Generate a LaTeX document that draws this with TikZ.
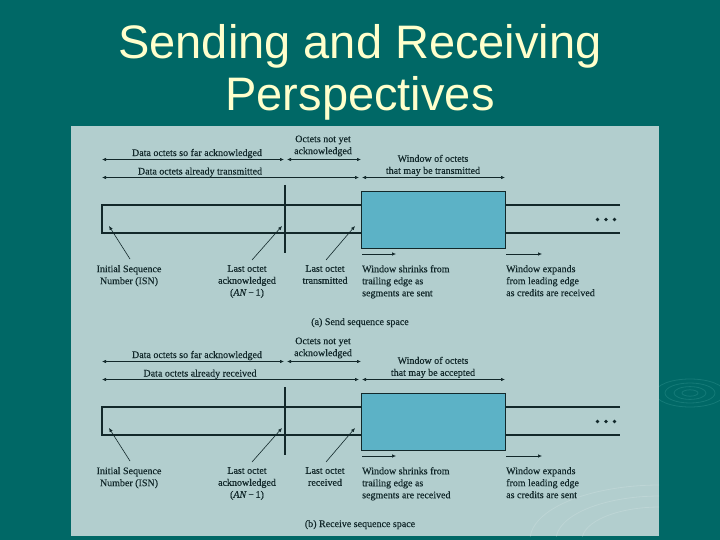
\documentclass[tikz,border=0pt]{standalone}
\usepackage{fontspec}
\setmainfont{Liberation Serif}
\newfontfamily\lblfont[FakeBold=0.35]{Liberation Serif}
\newfontfamily\titlefont{Liberation Sans}
\usetikzlibrary{arrows.meta}
\definecolor{bgteal}{RGB}{0,104,102}
\definecolor{panelc}{RGB}{178,206,206}
\definecolor{winc}{RGB}{92,178,198}
\definecolor{inkc}{RGB}{18,40,42}
\definecolor{titlec}{RGB}{255,255,204}
\definecolor{ripplec}{RGB}{40,140,136}
\tikzset{
  lbl/.style={font=\lblfont\fontsize{10}{12}\selectfont, text=inkc, inner sep=0pt, align=center},
  lblleft/.style={lbl, align=left},
  dim/.style={draw=inkc, line width=0.7pt, {Latex[length=4pt,width=3.4pt]}-{Latex[length=4pt,width=3.4pt]}},
  ptr/.style={draw=inkc, line width=0.6pt, -{Latex[length=4pt,width=3.4pt]}},
  strip/.style={draw=inkc, line width=1.1pt},
  barline/.style={draw=inkc, line width=2pt},
  winbox/.style={draw=inkc, fill=winc, line width=1.2pt, inner sep=0pt, minimum width=144pt, minimum height=57pt},
  titletext/.style={font=\titlefont\fontsize{47}{53}\selectfont, text=titlec, inner sep=0pt},
  ripple/.style={draw=ripplec, line width=0.8pt, opacity=0.5},
  dotc/.style={fill=inkc, circle, inner sep=0pt, minimum size=3.6pt}
}
\newcommand\seqspace[8]{%
\begin{scope}[shift={(0,#2)}]
  \coordinate (#1a1) at (102,159.5);
  \coordinate (#1a2) at (284,159.5);
  \coordinate (#1b1) at (287,159.5);
  \coordinate (#1b2) at (361,159.5);
  \coordinate (#1c1) at (102,177.5);
  \coordinate (#1c2) at (359,177.5);
  \coordinate (#1d1) at (362,177.5);
  \coordinate (#1d2) at (505,177.5);
  \draw[dim] (#1a1) -- (#1a2);
  \draw[dim] (#1b1) -- (#1b2);
  \draw[dim] (#1c1) -- (#1c2);
  \draw[dim] (#1d1) -- (#1d2);
  \node[lbl, anchor=base] (#1ackt) at (197,156) {Data octets so far acknowledged};
  \node[lbl, anchor=south] (#1nyt) at (323,156.5) {Octets not yet\\acknowledged};
  \node[lbl, anchor=base] (#1alr) at (200,174.5) {Data octets already #3};
  \node[lbl, anchor=south] (#1wint) at (433,176.2) {Window of octets\\that may be #4};
  % strip
  \coordinate (#1s1) at (620,205);
  \coordinate (#1s2) at (102,205);
  \coordinate (#1s3) at (102,233);
  \coordinate (#1s4) at (620,233);
  \draw[strip] (#1s1) -- (#1s2) -- (#1s3) -- (#1s4);
  \node[winbox, anchor=north west] (#1win) at (361,191) {};
  \coordinate (#1bt) at (285,185);
  \coordinate (#1bb) at (285,253);
  \draw[barline] (#1bt) -- (#1bb);
  \node[dotc] (#1dot1) at (597.5,219.5) {};
  \node[dotc] (#1dot2) at (606,219.5) {};
  \node[dotc] (#1dot3) at (614.5,219.5) {};
  % pointers and labels below
  \node[lbl, anchor=north] (#1isn) at (129,265) {Initial Sequence\\Number (ISN)};
  \coordinate (#1isnp) at (109,226);
  \draw[ptr] ([xshift=1pt,yshift=6pt]#1isn.north) -- (#1isnp);
  \node[lbl, anchor=north] (#1lack) at (247,265) {Last octet\\acknowledged\\(\textit{AN}\,−\,1)};
  \coordinate (#1lackp) at (282,226);
  \draw[ptr] ([xshift=5pt,yshift=5pt]#1lack.north) -- (#1lackp);
  \node[lbl, anchor=north] (#1ltr) at (325,265) {Last octet\\#5};
  \coordinate (#1ltrp) at (355,226);
  \draw[ptr] ([xshift=1pt,yshift=5pt]#1ltr.north) -- (#1ltrp);
  \coordinate (#1sh1) at (362,254);
  \coordinate (#1sh2) at (396,254);
  \draw[ptr] (#1sh1) -- (#1sh2);
  \node[lblleft, anchor=north west] (#1shr) at (362,265) {Window shrinks from\\trailing edge as\\segments are #6};
  \coordinate (#1ex1) at (506,254);
  \coordinate (#1ex2) at (542,254);
  \draw[ptr] (#1ex1) -- (#1ex2);
  \node[lblleft, anchor=north west] (#1exp) at (506,265) {Window expands\\from leading edge\\as credits are #7};
  \node[lbl, anchor=base] (#1cap) at (360,325) {#8};
\end{scope}}
\begin{document}
\begin{tikzpicture}[x=1pt,y=-1pt]
  \fill[bgteal] (0,0) rectangle (720,540);
  \useasboundingbox (0,0) rectangle (720,540);
  % ripples
  \foreach \r in {8,16,25,35} {\draw[ripple] (690,393) ellipse ({\r} and {\r*0.4});}
  \node[titletext, anchor=base] (title1) at (360,59) {Sending and Receiving};
  \node[titletext, anchor=base] (title2) at (360,111) {Perspectives};
  \fill[panelc] (71,126) rectangle (659,536);
  \begin{scope}
    \clip (71,126) rectangle (659,536);
    \foreach \r in {60,80,100} {\draw[white, opacity=0.15, line width=0.8pt] (660,540) ellipse ({\r*1.3} and {\r*0.55});}
  \end{scope}
  \seqspace{a}{0}{transmitted}{transmitted}{transmitted}{sent}{received}{(a) Send sequence space}
  \seqspace{b}{202}{received}{accepted}{received}{received}{sent}{(b) Receive sequence space}
\end{tikzpicture}
\end{document}
